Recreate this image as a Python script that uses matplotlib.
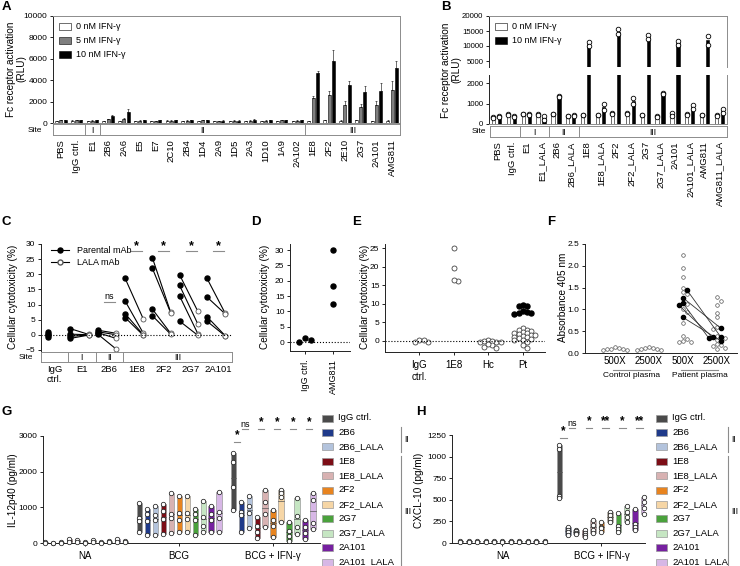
import numpy as np
import matplotlib
matplotlib.use("Agg")
import matplotlib.pyplot as plt
from matplotlib.patches import Rectangle
from matplotlib.lines import Line2D

plt.rcParams['font.family'] = ['Liberation Sans', 'DejaVu Sans']
plt.rcParams['font.size'] = 6.5
plt.rcParams['axes.linewidth'] = 0.7
plt.rcParams['xtick.major.width'] = 0.6
plt.rcParams['ytick.major.width'] = 0.6
plt.rcParams['xtick.major.size'] = 2.5
plt.rcParams['ytick.major.size'] = 2.5
plt.rcParams['ytick.major.pad'] = 1.5
plt.rcParams['xtick.labelsize'] = 6.5
plt.rcParams['ytick.labelsize'] = 6.0

# ---------------- data ----------------
# A: Fc receptor activation, mean and error (RLU)
a_names = ["PBS", "IgG ctrl.", "E1", "2B6", "2A6", "E5", "E7", "2C10", "2B4", "1D4",
           "2A9", "1D5", "2A3", "1D10", "1A9", "2A102", "1E8", "2F2", "2E10", "2G7",
           "2A101", "AMG811"]
a_sites = [("", 2), ("I", 1), ("II", 13), ("III", 6)]
a_0nM = [200, 210, 200, 190, 190, 200, 200, 210, 200, 190, 200, 200, 190, 200, 200,
         200, 200, 250, 230, 240, 180, 230]
a_0nM_err = [30, 30, 30, 30, 30, 30, 30, 30, 30, 30, 30, 30, 30, 30, 30, 30, 30, 40,
             30, 30, 30, 30]
a_5nM = [260, 250, 210, 350, 400, 230, 200, 230, 220, 240, 200, 210, 220, 230, 240,
         220, 2350, 2600, 1700, 1500, 1700, 3100]
a_5nM_err = [40, 40, 30, 60, 80, 30, 30, 40, 30, 40, 30, 30, 30, 30, 40, 30, 200, 400,
             350, 250, 350, 800]
a_10nM = [270, 270, 240, 650, 1000, 250, 260, 250, 260, 250, 220, 230, 300, 250, 270,
          250, 4700, 5800, 3550, 2900, 3000, 5100]
a_10nM_err = [40, 40, 40, 60, 300, 30, 40, 40, 40, 40, 30, 30, 80, 40, 50, 40, 150,
              1000, 350, 550, 750, 700]

# B: replicates
b_names = ["PBS", "IgG ctrl.", "E1", "E1_LALA", "2B6", "2B6_LALA", "1E8", "1E8_LALA",
           "2F2", "2F2_LALA", "2G7", "2G7_LALA", "2A101", "2A101_LALA", "AMG811",
           "AMG811_LALA"]
b_sites = [("", 2), ("I", 2), ("II", 2), ("III", 10)]
b_0nM = [[340, 290], [500, 460], [500, 470], [470, 430], [500, 480], [400, 370],
         [460, 440], [460, 440], [540, 500], [550, 470], [450, 430], [410, 360],
         [520, 400], [470, 440], [440, 420], [420, 380]]
b_10nM = [[390, 340], [380, 330], [480, 450], [390, 200], [1380, 1300], [450, 400],
          [11300, 10000], [1000, 700], [15600, 14000], [1280, 960], [13700, 12500],
          [1500, 1480], [11800, 10300], [950, 720], [13300, 10500], [750, 530]]

# C: cellular cytotoxicity, parental vs LALA
c_names = ["IgG\nctrl.", "E1", "2B6", "1E8", "2F2", "2G7", "2A101"]
c_sites = [("", 1), ("I", 1), ("II", 1), ("III", 4)]
c_parental = [[1.0, 0.4, -0.2, -0.6], [2.0, 0.2, -0.5, -1.2], [1.5, 1.0, 0.7, 0.2],
              [18.7, 11.2, 7.0, 5.7], [25.5, 22.0, 8.5, 6.3], [19.8, 16.3, 12.8, 4.5],
              [18.7, 12.5, 6.0, 4.5]]
c_lala = [None, [0.1, 0.0, -0.1, -0.1], [0.5, 0.0, -1.2, -4.7], [5.2, 0.5, 0.0, -0.2],
          [7.5, 7.3, 0.5, 0.2], [7.7, 3.5, 0.3, -0.2], [7.1, 6.9, -0.3, -0.4]]
c_sig = ["", "", "ns", "*", "*", "*", "*"]

# D
d_names = ["IgG ctrl.", "AMG811"]
d_vals = [[0.0, 1.3, 0.8], [30.0, 18.3, 12.3]]

# E
e_names = ["IgG\nctrl.", "1E8", "Hc", "Pt"]
e_open = [[-0.3, 0.3, -0.4, 0.1], [25.0, 19.6, 16.1, 16.3],
          [0.1, -0.2, 0.0, -0.4, -1.0, -1.7, -1.9, -0.9, -0.2, -0.1],
          [3.5, 3.0, 2.9, 2.6, 2.4, 2.2, 2.0, 1.9, 1.6, 1.3, 1.1, 1.0, 0.7, 0.5, 0.3,
           0.1, -0.4, -1.0, -1.9, 1.5]]
e_filled = [[], [], [], [9.7, 9.5, 9.3, 8.0, 7.9, 7.6, 7.4, 7.3]]

# F
f_ticks = ["500X", "2500X", "500X", "2500X"]
f_groups = ["Control plasma", "Patient plasma"]
f_open = [[0.08, 0.09, 0.10, 0.08, 0.11, 0.13, 0.09],
          [0.08, 0.10, 0.09, 0.11, 0.12, 0.14, 0.08],
          [2.25, 1.95, 1.75, 1.50, 1.40, 1.35, 1.12, 1.00, 0.95, 0.68, 0.40, 0.32,
           0.25, 0.27, 0.25],
          [1.28, 1.20, 1.10, 0.92, 0.82, 0.60, 0.55, 0.40, 0.35, 0.30, 0.20, 0.18,
           0.15, 0.12, 0.10]]
f_filled_500 = [1.45, 1.27, 1.15, 1.10, 0.82]
f_filled_2500 = [0.37, 0.57, 0.35, 0.36, 0.28]

# G / H
conds = ["IgG ctrl.", "2B6", "2B6_LALA", "1E8", "1E8_LALA", "2F2", "2F2_LALA", "2G7",
         "2G7_LALA", "2A101", "2A101_LALA"]
cond_colors = ["#4a4a4a", "#1f3a8a", "#b3c3dc", "#7c0d16", "#d8b2b2", "#e8841f",
               "#f6d6a6", "#4aa23c", "#c6e6c3", "#7620a0", "#d7b7e6"]
g_groups = ["NA", "BCG", "BCG + IFN-γ"]
g_na = [[15, 5], [10, 5], [15, 5], [110, 30], [90, 20], [15, 5], [80, 20], [30, 10],
        [60, 20], [110, 30], [45, 15]]
g_bcg = [[1130, 700, 610, 310], [960, 820, 610, 230], [1040, 780, 640, 230],
         [1100, 900, 680, 240], [1390, 820, 700, 290], [1310, 840, 640, 310],
         [1310, 840, 660, 310], [960, 820, 640, 220], [1170, 730, 470, 310],
         [1040, 820, 640, 310], [1430, 870, 700, 310]]
g_ifn = [[2530, 2280, 1570, 920], [1150, 870, 780, 320], [1330, 1050, 850, 420],
         [720, 480, 300, 150], [1480, 1150, 800, 450], [930, 650, 480, 180],
         [1480, 1400, 1300, 580], [590, 350, 200, 60], [1260, 750, 450, 260],
         [640, 450, 280, 120], [1400, 1200, 560, 390]]
g_sig = ["*", "ns", "*", "*", "*", "*"]

h_groups = ["NA", "BCG + IFN-γ"]
h_na = [[25, 15], [25, 15], [25, 15], [25, 15], [25, 15], [25, 15], [25, 15],
        [25, 15], [25, 15], [25, 15], [25, 15]]
h_ifn = [[1130, 1090, 540, 520], [180, 150, 130, 90], [150, 140, 110, 100],
         [155, 120, 90, 70], [270, 205, 150, 110], [240, 190, 170, 130],
         [360, 320, 280, 240], [350, 200, 160, 130], [430, 360, 300, 240],
         [390, 220, 180, 150], [530, 470, 400, 340]]
h_sig = ["*", "ns", "*", "**", "*", "**"]

legend_brackets = [("II", 1, 2), ("III", 3, 10)]

# ---------------- helpers ----------------
FW, FH = 740, 566
fig = plt.figure(figsize=(FW / 100, FH / 100), dpi=100)
DARK = "#222222"
GREY = "#8c8c8c"


def px_axes(l, t, r, b):
    return fig.add_axes([l / FW, 1 - b / FH, (r - l) / FW, (b - t) / FH])


def px_text(x, y, s, **kw):
    fig.text(x / FW, 1 - y / FH, s, **kw)


def ylabel_px(x, y, s):
    px_text(x, y, s, rotation=90, ha='center', va='center', fontsize=7.2,
            multialignment='center', linespacing=1.05)


def letter(x, y, s):
    px_text(x, y, s, fontsize=9.5, fontweight='bold', va='top', ha='left')


def open_axes(ax):
    ax.spines['top'].set_visible(False)
    ax.spines['right'].set_visible(False)
    for s in ('left', 'bottom'):
        ax.spines[s].set_color(DARK)


def draw_sites(ax, sites, names, site_x, rot=90):
    n = sum(k for _, k in sites)
    ax.set_xlim(-0.5, n - 0.5)
    ax.set_ylim(0, 1)
    ax.set_yticks([])
    for s in ax.spines.values():
        s.set_color(GREY)
    start = -0.5
    for lab, k in sites:
        if start > -0.5:
            ax.axvline(start, color=GREY, lw=0.7)
        ax.text(start + k / 2, 0.45, lab, ha='center', va='center', fontsize=6.3)
        start += k
    ax.set_xticks(range(n))
    ax.set_xticklabels(names, rotation=rot, fontsize=6.8)
    ax.tick_params(axis='x', length=0, pad=3)
    bb = ax.get_position()
    px_text(site_x, (1 - (bb.y0 + bb.y1) / 2) * FH + 0.5, "Site", ha='right',
            va='center', fontsize=6.0)


def swarm(vals, center, dy, dx):
    vals = np.asarray(vals, dtype=float)
    xs = np.zeros(len(vals))
    placed = []
    for idx in np.argsort(-vals):
        v = vals[idx]
        for k in range(60):
            off = ((k + 1) // 2) * dx * (1 if k % 2 else -1)
            if all(abs(v - pv) >= dy or abs(off - po) >= dx * 0.99 for pv, po in placed):
                break
        placed.append((v, off))
        xs[idx] = center + off
    return xs


# ---------------- A ----------------
letter(2, 1, "A")
axA = px_axes(53, 16, 400, 123)
xA = np.arange(len(a_names))
nA = len(a_names)
for off, vals, errs, fc, lab in [(-0.27, a_0nM, a_0nM_err, "white", "0 nM IFN-γ"),
                                 (0.0, a_5nM, a_5nM_err, "#7f7f7f", "5 nM IFN-γ"),
                                 (0.27, a_10nM, a_10nM_err, "black", "10 nM IFN-γ")]:
    axA.bar(xA + off, vals, 0.19, color=fc, edgecolor="black", lw=0.4, label=lab)
    axA.errorbar(xA + off, vals, yerr=[np.zeros(nA), errs], fmt='none', ecolor="black",
                 elinewidth=0.4, capsize=1.0, capthick=0.4)
axA.set_xlim(-0.5, nA - 0.5)
axA.set_ylim(0, 10000)
axA.set_yticks(range(0, 10001, 2000))
axA.set_xticks([])
for s in ('top', 'right'):
    axA.spines[s].set_color(GREY)
axA.spines['left'].set_color(DARK)
axA.spines['bottom'].set_color(GREY)
ylabel_px(16, 69, "Fc receptor activation\n(RLU)")
axA.legend(loc='upper left', frameon=False, fontsize=6.5, handlelength=1.3,
           handleheight=0.8, labelspacing=0.55, borderaxespad=0.3, handletextpad=0.6)
axAs = px_axes(53, 124, 400, 135)
draw_sites(axAs, a_sites, a_names, 42)

# ---------------- B ----------------
letter(441, 1, "B")
axBh = px_axes(489, 16, 727, 67)
axBl = px_axes(489, 75, 727, 124)
xB = np.arange(len(b_names))
for ax in (axBh, axBl):
    for off, reps, fc, lab in [(-0.2, b_0nM, "white", "0 nM IFN-γ"),
                               (0.2, b_10nM, "black", "10 nM IFN-γ")]:
        means = [np.mean(r) for r in reps]
        ax.bar(xB + off, means, 0.22, color=fc, edgecolor="black", lw=0.4, label=lab)
        for i, r in enumerate(reps):
            ax.plot([xB[i] + off] * len(r), r, 'o', ms=3.3, mfc="white", mec="black",
                    mew=0.6)
    ax.set_xlim(-0.5, len(b_names) - 0.5)
    ax.set_xticks([])
    ax.spines['left'].set_color(DARK)
    ax.spines['right'].set_color(GREY)
    ax.tick_params(axis='y', labelsize=5.6)
axBh.set_ylim(3000, 20000)
axBh.set_yticks([5000, 10000, 15000, 20000])
axBh.spines['bottom'].set_visible(False)
axBh.spines['top'].set_color(GREY)
axBl.set_ylim(0, 2400)
axBl.set_yticks([0, 1000, 2000])
axBl.spines['top'].set_visible(False)
axBl.spines['bottom'].set_color(GREY)
axBh.legend(loc='upper left', frameon=False, fontsize=6.5, handlelength=1.3,
            handleheight=0.8, labelspacing=0.55, borderaxespad=0.3, handletextpad=0.6)
ylabel_px(451, 70, "Fc receptor activation\n(RLU)")
axBs = px_axes(490, 126, 727, 137)
draw_sites(axBs, b_sites, b_names, 486)

# ---------------- C ----------------
letter(1, 216, "C")
axC = px_axes(41, 244, 232, 352)
open_axes(axC)
xC = np.arange(len(c_names))
for i in range(len(c_names)):
    par = c_parental[i]
    lala = c_lala[i]
    if lala is None:
        axC.plot([xC[i] - 0.25] * len(par), par, 'o', ms=3.6, color="black")
        continue
    for p, q in zip(par, lala):
        axC.plot([xC[i] - 0.42, xC[i] + 0.25], [p, q], '-', color="black", lw=0.8)
    axC.plot([xC[i] - 0.42] * len(par), par, 'o', ms=3.6, color="black")
    axC.plot([xC[i] + 0.25] * len(lala), lala, 'o', ms=3.6, mfc="white", mec="#555555",
             mew=0.6)
for i, s in enumerate(c_sig):
    if not s:
        continue
    ly = 27.8 if s == "*" else 10.9
    axC.plot([xC[i] - 0.2, xC[i] + 0.2], [ly, ly], color=GREY, lw=0.8, clip_on=False)
    axC.text(xC[i], ly + (0.4 if s == "ns" else -0.6), s, ha='center', va='bottom',
             fontsize=6.5 if s == "ns" else 9, fontweight='normal' if s == "ns" else 'bold')
axC.axhline(0, ls=':', color="black", lw=0.8)
axC.set_xlim(-0.5, len(c_names) - 0.5)
axC.set_ylim(-5.7, 30)
axC.set_yticks(range(-5, 31, 5))
axC.set_xticks([])
axC.spines['bottom'].set_visible(False)
ylabel_px(13, 297, "Cellular cytotoxicity (%)")
c_handles = [Line2D([], [], color="black", lw=0.8, marker='o', ms=3.6),
             Line2D([], [], color="black", lw=0.8, marker='o', ms=3.6, mfc="white",
                    mec="#555555")]
axC.legend(c_handles, ["Parental mAb", "LALA mAb"], loc='upper left', frameon=False,
           fontsize=6.5, handlelength=2.0, labelspacing=0.3, borderaxespad=0.1,
           bbox_to_anchor=(0.03, 1.02))
axCs = px_axes(41, 352, 232, 362)
draw_sites(axCs, c_sites, c_names, 33, rot=0)
axCs.tick_params(axis='x', pad=2)

# ---------------- D ----------------
letter(251, 216, "D")
axD = px_axes(290, 244, 350, 351)
open_axes(axD)
for i, v in enumerate(d_vals):
    axD.plot(swarm(v, i, 1.7, 0.22), v, 'o', ms=3.6, color="black")
axD.axhline(0, ls=':', color="black", lw=0.8)
axD.set_xlim(-0.54, 1.6)
axD.set_ylim(-2.9, 32)
axD.set_yticks(range(0, 31, 5))
axD.set_xticks(range(len(d_names)))
axD.set_xticklabels(d_names, rotation=90)
ylabel_px(265, 297, "Cellular cytotoxicity (%)")

# ---------------- E ----------------
letter(352, 216, "E")
axE = px_axes(385, 244, 545, 352)
open_axes(axE)
for i in range(len(e_names)):
    vals = list(e_open[i]) + list(e_filled[i])
    xs = swarm(vals, i, 1.0, 0.12)
    no = len(e_open[i])
    axE.plot(xs[:no], vals[:no], 'o', ms=3.6, mfc="white", mec="#444444", mew=0.6)
    if e_filled[i]:
        axE.plot(xs[no:], vals[no:], 'o', ms=3.6, color="black")
axE.axhline(0, ls=':', color="black", lw=0.8)
axE.set_xlim(-1.0, 3.65)
axE.set_ylim(-3, 26.1)
axE.set_yticks(range(0, 26, 5))
axE.set_xticks(range(len(e_names)))
axE.set_xticklabels(e_names, fontsize=7)
ylabel_px(365, 297, "Cellular cytotoxicity (%)")

# ---------------- F ----------------
letter(547, 216, "F")
axF = px_axes(585, 244, 737, 353)
open_axes(axF)
f_filled = [[], [], f_filled_500, f_filled_2500]
f_xy = []
for i in range(len(f_ticks)):
    vals = list(f_open[i]) + list(f_filled[i])
    xs = swarm(vals, i, 0.085, 0.12)
    no = len(f_open[i])
    axF.plot(xs[:no], vals[:no], 'o', ms=2.6, mfc="white", mec="#555555", mew=0.5,
             clip_on=False)
    f_xy.append((xs[no:], vals[no:]))
for (x0, y0), (x1, y1) in zip(zip(*f_xy[2]), zip(*f_xy[3])):
    axF.plot([x0, x1], [y0, y1], '-', color="#333333", lw=0.6)
for i in (2, 3):
    axF.plot(f_xy[i][0], f_xy[i][1], 'o', ms=3.0, color="black")
axF.set_xlim(-0.88, 3.6)
axF.set_ylim(0, 2.5)
axF.set_yticks(np.arange(0, 2.51, 0.5))
axF.set_yticklabels([f"{v:.1f}" for v in np.arange(0, 2.51, 0.5)])
axF.set_xticks(range(len(f_ticks)))
axF.set_xticklabels(f_ticks, fontsize=7)
axF.tick_params(axis='x', length=0, pad=2)
ylabel_px(563, 297, "Absorbance 405 nm")
for j, g in enumerate(f_groups):
    axF.plot([2 * j - 0.05, 2 * j + 1.05], [-0.39, -0.39], color=GREY, lw=0.8,
             clip_on=False)
    axF.text(2 * j + 0.5, -0.43, g, ha='center', va='top', fontsize=6)


# ---------------- G & H ----------------
STEP = 0.085
BW = 0.055


def float_bars(ax, g, data):
    for i, vals in enumerate(data):
        x = g + (i - 5) * STEP
        lo, hi = min(vals), max(vals)
        ax.add_patch(Rectangle((x - BW / 2, lo), BW, hi - lo, facecolor=cond_colors[i],
                               edgecolor="#9a9a9a", lw=0.5, zorder=2))
        ax.plot([x - BW / 2, x + BW / 2], [np.mean(vals)] * 2, color="#555555", lw=0.5,
                zorder=3)
        ax.plot([x] * len(vals), vals, 'o', ms=3.2, mfc="white", mec="#222222",
                mew=0.55, zorder=4, clip_on=False)


def sig_marks(ax, g, labels, y_first, y_rest):
    pairs = [(0, 1), (1, 2), (3, 4), (5, 6), (7, 8), (9, 10)]
    for (a, b), s in zip(pairs, labels):
        xa = g + (a - 5) * STEP + 0.01
        xb = g + (b - 5) * STEP - 0.01
        y = y_first if a == 0 else y_rest
        ax.plot([xa, xb], [y, y], color=GREY, lw=0.8, clip_on=False)
        ax.text((xa + xb) / 2, y * 1.005, s, ha='center', va='bottom', clip_on=False,
                fontsize=6.5 if s == "ns" else 8.5,
                fontweight='normal' if s == "ns" else 'bold')


def legend_block(x_box, y0, x_br):
    for i, (c, lab) in enumerate(zip(cond_colors, conds)):
        y = y0 + 14.4 * i
        fig.patches.append(Rectangle((x_box / FW, 1 - (y + 3.5) / FH), 11 / FW, 7 / FH,
                                     transform=fig.transFigure, facecolor=c,
                                     edgecolor="#9a9a9a", lw=0.5))
        px_text(x_box + 16, y, lab, fontsize=6.8, va='center', ha='left')
    for lab, i0, i1 in legend_brackets:
        ya = y0 + 14.4 * i0 - 5
        yb = y0 + 14.4 * i1 + 5
        fig.add_artist(Line2D([x_br / FW] * 2, [1 - ya / FH, 1 - yb / FH], color=GREY,
                              lw=0.8, transform=fig.transFigure))
        px_text(x_br + 3, (ya + yb) / 2, lab, fontsize=6.2, va='center', ha='left')


letter(1, 406, "G")
axG = px_axes(43, 436, 320, 543)
open_axes(axG)
for g, data in enumerate([g_na, g_bcg, g_ifn]):
    float_bars(axG, g, data)
sig_marks(axG, 2, g_sig, 2840, 3190)
axG.set_xlim(-0.45, 2.5)
axG.set_ylim(0, 3000)
axG.set_yticks([0, 1000, 2000, 3000])
axG.set_xticks(range(len(g_groups)))
axG.set_xticklabels(g_groups, fontsize=7)
ylabel_px(13, 490, "IL-12p40 (pg/ml)")
legend_block(322, 418, 401)

letter(416, 406, "H")
axH = px_axes(452, 435, 645, 543)
open_axes(axH)
for g, data in enumerate([h_na, h_ifn]):
    float_bars(axH, g, data)
sig_marks(axH, 1, h_sig, 1215, 1330)
axH.set_xlim(-0.51, 1.44)
axH.set_ylim(0, 1250)
axH.set_yticks(range(0, 1251, 250))
axH.set_xticks(range(len(h_groups)))
axH.set_xticklabels(h_groups, fontsize=7)
ylabel_px(419, 490, "CXCL-10 (pg/ml)")
legend_block(656, 418, 728)

fig.savefig("out.png", dpi=100)
